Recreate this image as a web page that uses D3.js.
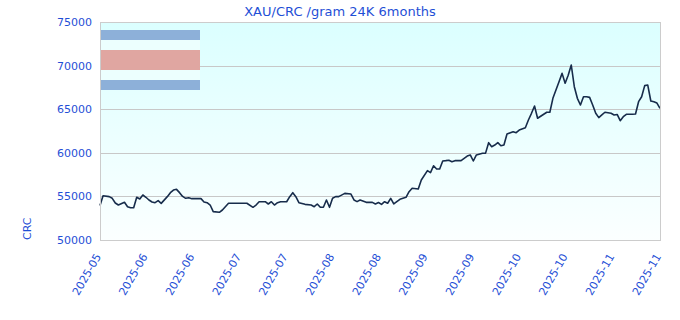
<!DOCTYPE html>
<html>
<head>
<meta charset="utf-8">
<script src="https://cdn.jsdelivr.net/npm/d3@7"></script>
<style>
  body { margin: 0; background: #fff; }
  text { font-family: "DejaVu Sans", sans-serif; }
</style>
</head>
<body>
<div id="chart"></div>
<script>
(function() {
  // chart data
  var dates = [
    '2025-05-18', '2025-05-19', '2025-05-21', '2025-05-22', '2025-05-23', '2025-05-24', '2025-05-26', '2025-05-27',
    '2025-05-28', '2025-05-29', '2025-05-30', '2025-05-31', '2025-06-01', '2025-06-02', '2025-06-03', '2025-06-04',
    '2025-06-05', '2025-06-06', '2025-06-07', '2025-06-09', '2025-06-10', '2025-06-11', '2025-06-12', '2025-06-13',
    '2025-06-14', '2025-06-15', '2025-06-16', '2025-06-17', '2025-06-20', '2025-06-21', '2025-06-22', '2025-06-23',
    '2025-06-24', '2025-06-26', '2025-06-27', '2025-06-29', '2025-07-05', '2025-07-07', '2025-07-08', '2025-07-09',
    '2025-07-11', '2025-07-12', '2025-07-13', '2025-07-14', '2025-07-15', '2025-07-16', '2025-07-18', '2025-07-19',
    '2025-07-20', '2025-07-21', '2025-07-22', '2025-07-24', '2025-07-26', '2025-07-27', '2025-07-28', '2025-07-29',
    '2025-07-30', '2025-07-31', '2025-08-01', '2025-08-02', '2025-08-03', '2025-08-04', '2025-08-06', '2025-08-08',
    '2025-08-09', '2025-08-10', '2025-08-11', '2025-08-13', '2025-08-15', '2025-08-16', '2025-08-17', '2025-08-18',
    '2025-08-19', '2025-08-20', '2025-08-21', '2025-08-22', '2025-08-24', '2025-08-26', '2025-08-27', '2025-08-28',
    '2025-08-30', '2025-08-31', '2025-09-02', '2025-09-03', '2025-09-04', '2025-09-05', '2025-09-06', '2025-09-07',
    '2025-09-08', '2025-09-09', '2025-09-10', '2025-09-11', '2025-09-13', '2025-09-15', '2025-09-16', '2025-09-17',
    '2025-09-18', '2025-09-20', '2025-09-21', '2025-09-22', '2025-09-23', '2025-09-24', '2025-09-25', '2025-09-26',
    '2025-09-27', '2025-09-28', '2025-09-30', '2025-10-01', '2025-10-02', '2025-10-04', '2025-10-05', '2025-10-06',
    '2025-10-07', '2025-10-08', '2025-10-10', '2025-10-11', '2025-10-12', '2025-10-13', '2025-10-14', '2025-10-15',
    '2025-10-16', '2025-10-17', '2025-10-18', '2025-10-19', '2025-10-20', '2025-10-21', '2025-10-22', '2025-10-23',
    '2025-10-24', '2025-10-25', '2025-10-26', '2025-10-27', '2025-10-28', '2025-10-29', '2025-10-30', '2025-11-01',
    '2025-11-02', '2025-11-03', '2025-11-04', '2025-11-05', '2025-11-06', '2025-11-08', '2025-11-09', '2025-11-10',
    '2025-11-11', '2025-11-12', '2025-11-13', '2025-11-14', '2025-11-15', '2025-11-16', '2025-11-17'
  ];
  var prices = [
    53950, 55080, 54970, 54780, 54240, 54010, 54320, 53820,
    53700, 53700, 54900, 54700, 55160, 54900, 54590, 54360,
    54280, 54510, 54200, 54970, 55430, 55730, 55810, 55430,
    55000, 54780, 54850, 54740, 54740, 54360, 54280, 54010,
    53250, 53180, 53440, 54210, 54210, 53750, 54010, 54390,
    54390, 54130, 54390, 54010, 54280, 54390, 54390, 54970,
    55430, 54970, 54280, 54090, 54010, 53820, 54130, 53750,
    53750, 54590, 53750, 54780, 54970, 54970, 55350, 55270,
    54590, 54400, 54590, 54320, 54320, 54130, 54300, 54090,
    54390, 54210, 54780, 54130, 54670, 54900, 55540, 55930,
    55850, 56880, 57950, 57720, 58520, 58140, 58140, 59060,
    59100, 59150, 58980, 59100, 59100, 59630, 59750, 59060,
    59750, 59940, 59960, 61160, 60700, 60890, 61160, 60810,
    60890, 62160, 62420, 62310, 62610, 62880, 63760, 64530,
    65370, 63960, 64420, 64650, 64650, 66250, 67200, 68150,
    69110, 67970, 68900, 70070, 67580, 66250, 65480, 66430,
    66430, 66360, 65480, 64530, 64030, 64340, 64650, 64530,
    64340, 64400, 63680, 64140, 64420, 64420, 64450, 65860,
    66430, 67700, 67770, 65940, 65860, 65700, 65100
  ];
  var yTicks = [50000, 55000, 60000, 65000, 70000, 75000];
  var startDate = '2025-05-18';
  var endDate = '2025-11-17';
  var tickCount = 13;

  var width = 680;
  var height = 320;
  var margin = { top: 22, right: 20, bottom: 80, left: 100 };
  var innerW = width - margin.left - margin.right;
  var innerH = height - margin.top - margin.bottom;
  var textColor = '#1f4fd6';
  var parse = d3.utcParse('%Y-%m-%d');

  var data = dates.map(function(d, i) {
    return { date: parse(d), value: prices[i] };
  });

  var x = d3.scaleUtc()
    .domain([parse(startDate), parse(endDate)])
    .range([0, innerW]);
  var y = d3.scaleLinear()
    .domain([yTicks[0], yTicks[yTicks.length - 1]])
    .range([innerH, 0]);

  var svg = d3.select('#chart').append('svg')
    .attr('width', width)
    .attr('height', height);

  var defs = svg.append('defs');
  var grad = defs.append('linearGradient')
    .attr('id', 'bg')
    .attr('x1', 0).attr('y1', 0).attr('x2', 0).attr('y2', 1);
  grad.append('stop').attr('offset', '0%').attr('stop-color', '#dbffff');
  grad.append('stop').attr('offset', '100%').attr('stop-color', '#fbffff');

  svg.append('text')
    .attr('x', width / 2)
    .attr('y', 16)
    .attr('text-anchor', 'middle')
    .attr('fill', textColor)
    .style('font-size', '13px')
    .text('XAU/CRC /gram 24K 6months');

  var g = svg.append('g')
    .attr('transform', 'translate(' + margin.left + ',' + margin.top + ')');

  g.append('rect')
    .attr('width', innerW)
    .attr('height', innerH)
    .attr('fill', 'url(#bg)');

  // grid lines
  g.selectAll('.grid')
    .data(yTicks)
    .enter()
    .append('line')
    .attr('class', 'grid')
    .attr('x1', 0)
    .attr('x2', innerW)
    .attr('y1', function(d) { return Math.round(y(d)) + 0.5; })
    .attr('y2', function(d) { return Math.round(y(d)) + 0.5; })
    .attr('stroke', '#c8c8c8')
    .attr('stroke-width', 1);

  // legend bands (empty labels)
  var legendBands = [
    { top: 8, h: 10, fill: '#8db0d9' },
    { top: 18, h: 10, fill: '#ecfffe' },
    { top: 28, h: 20, fill: '#e0a6a1' },
    { top: 48, h: 10, fill: '#ecfffe' },
    { top: 58, h: 10, fill: '#8db0d9' }
  ];
  g.selectAll('.band')
    .data(legendBands)
    .enter()
    .append('rect')
    .attr('class', 'band')
    .attr('x', 1)
    .attr('y', function(d) { return d.top; })
    .attr('width', 99)
    .attr('height', function(d) { return d.h; })
    .attr('fill', function(d) { return d.fill; });

  // price line
  var line = d3.line()
    .x(function(d) { return x(d.date); })
    .y(function(d) { return y(d.value); });

  g.append('path')
    .datum(data)
    .attr('fill', 'none')
    .attr('stroke', '#172c4b')
    .attr('stroke-width', 1.6)
    .attr('stroke-linejoin', 'round')
    .attr('d', line);

  // frame
  g.append('rect')
    .attr('x', 0.5)
    .attr('y', 0.5)
    .attr('width', innerW)
    .attr('height', innerH)
    .attr('fill', 'none')
    .attr('stroke', '#cccccc');

  // y axis
  var yAxis = g.append('g')
    .call(d3.axisLeft(y).tickValues(yTicks).tickSize(0).tickPadding(8).tickFormat(d3.format('d')));
  yAxis.select('.domain').remove();
  yAxis.selectAll('text')
    .attr('fill', textColor)
    .style('font-size', '11px')
    .style('font-family', '"DejaVu Sans", sans-serif');

  // x axis
  var t0 = parse(startDate).getTime();
  var t1 = parse(endDate).getTime();
  var xTicks = d3.range(tickCount).map(function(i) {
    return new Date(t0 + i * (t1 - t0) / (tickCount - 1));
  });
  var xAxis = g.append('g')
    .attr('transform', 'translate(0,' + innerH + ')')
    .call(d3.axisBottom(x).tickValues(xTicks).tickSize(0).tickFormat(d3.utcFormat('%Y-%m')));
  xAxis.select('.domain').remove();
  xAxis.selectAll('text')
    .attr('fill', textColor)
    .style('font-size', '11px')
    .style('font-family', '"DejaVu Sans", sans-serif')
    .attr('text-anchor', 'end')
    .attr('dy', '0.35em')
    .attr('transform', 'translate(-5,13) rotate(-60)');

  // y axis title
  svg.append('text')
    .attr('transform', 'translate(31,240) rotate(-90)')
    .attr('text-anchor', 'start')
    .attr('fill', textColor)
    .style('font-size', '11px')
    .text('CRC');
})();
</script>
</body>
</html>
